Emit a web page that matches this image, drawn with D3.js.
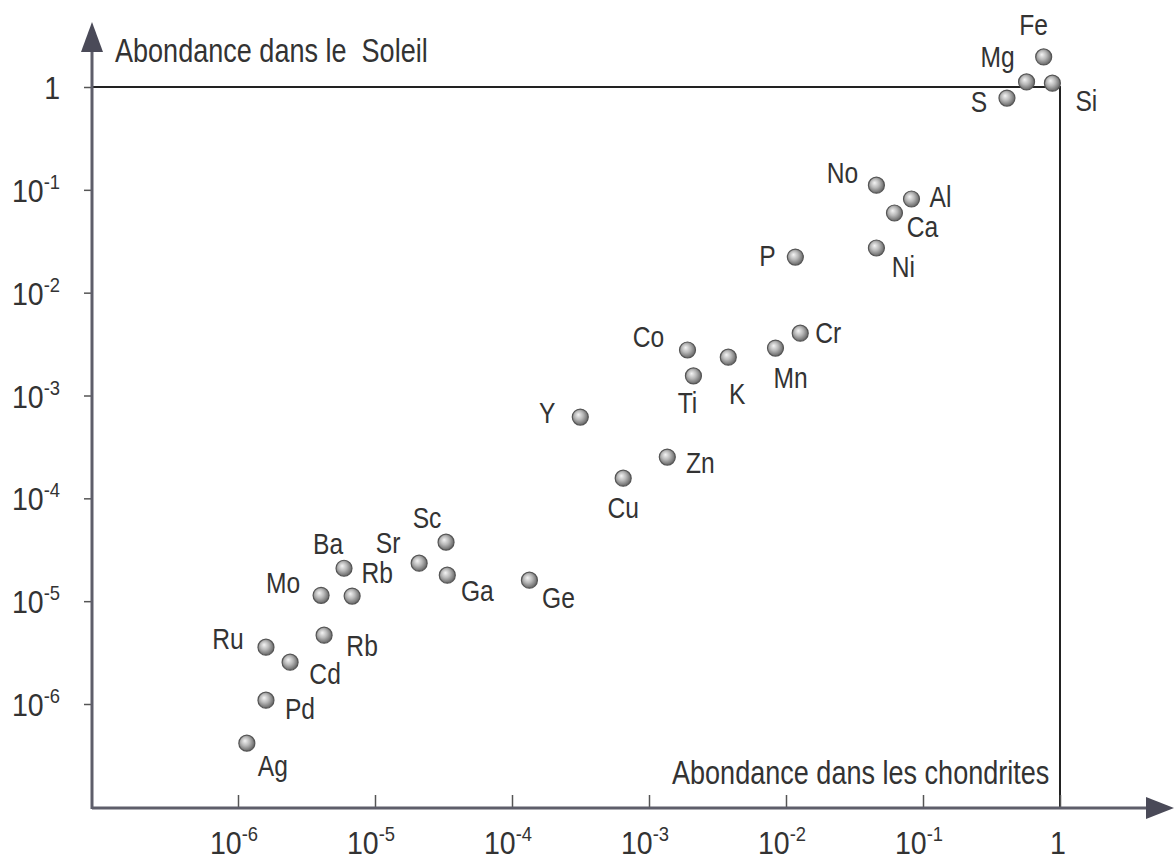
<!DOCTYPE html>
<html>
<head>
<meta charset="utf-8">
<script src="https://cdn.jsdelivr.net/npm/d3@7"></script>
<style>
  body { margin: 0; background: #fff; }
  text { font-family: "Liberation Sans", Arial, sans-serif; fill: #333; }
  .title { font-size: 33px; }
  .elem { font-size: 30px; }
  .tick-label { font-size: 31px; }
  .tick-label .sup { font-size: 20px; }
</style>
</head>
<body>
<div class="chart"></div>
<script>

const width = 1175
const height = 862

// the printed type is a condensed sans, so squeeze labels horizontally
const squeeze = 0.82

// element symbols, abundance in chondrites (x) and in the Sun (y)
const elements = ["Fe","Mg","Si","S","No","Al","Ca","Ni","P","Cr","Mn","K","Co","Ti","Y","Zn","Cu","Sc","Sr","Ga","Ge","Ba","Mo","Rb","Rb","Ru","Cd","Pd","Ag"]
const chondrites = [0.76,0.57,0.88,0.41,0.0457,0.0824,0.0619,0.0457,0.0117,0.0127,0.00838,0.00379,0.00191,0.00211,3.15e-4,1.36e-3,6.48e-4,3.30e-5,2.10e-5,3.37e-5,1.34e-4,5.94e-6,4.04e-6,6.81e-6,4.25e-6,1.60e-6,2.40e-6,1.60e-6,1.16e-6]
const soleil = [1.96,1.12,1.09,0.78,0.111,0.0814,0.0595,0.0272,0.0222,0.00404,0.00289,0.00236,0.00277,0.00155,6.17e-4,2.52e-4,1.57e-4,3.75e-5,2.34e-5,1.79e-5,1.60e-5,2.09e-5,1.14e-5,1.12e-5,4.67e-6,3.57e-6,2.55e-6,1.09e-6,4.16e-7]

// where each symbol sits relative to its dot
const labelOffsets = [[-10,-32],[-29,-25],[34,17],[-28,4],[-34,-13],[29,-2],[28,14],[27,19],[-28,-1],[28,-1],[15,30],[9,36],[-39,-13],[-6,27],[-33,-4],[33,6],[0,29],[-19,-25],[-31,-21],[30,15],[29,17],[-16,-25],[-38,-13],[25,-23],[38,10],[-38,-9],[35,11],[34,8],[26,22]]

const tickExponents = [-6,-5,-4,-3,-2,-1,0]
const tickValues = tickExponents.map(e => Math.pow(10, e))

const origin = {x: 92, y: 808}

const svg = d3.select('.chart')
  .append('svg')
  .attr('width', width)
  .attr('height', height)

const defs = svg.append('defs')
const grad = defs.append('radialGradient')
  .attr('id', 'ball')
  .attr('cx', '45%').attr('cy', '45%').attr('r', '60%')
  .attr('fx', '38%').attr('fy', '35%')
grad.append('stop').attr('offset', '0%').attr('stop-color', '#f4f4f4')
grad.append('stop').attr('offset', '45%').attr('stop-color', '#b8b8b8')
grad.append('stop').attr('offset', '100%').attr('stop-color', '#5a5a5a')

const xScale = d3.scaleLog()
  .domain([1e-6, 1])
  .range([238, 1060])

const yScale = d3.scaleLog()
  .domain([1e-6, 1])
  .range([704, 87])

// frame at the value 1 on both axes
svg.append('path')
  .attr('d', `M${origin.x},${yScale(1)}H${xScale(1)}V${origin.y}`)
  .attr('fill', 'none')
  .attr('stroke', '#222')
  .attr('stroke-width', 2)

// x axis
const xAxis = svg.append('g')
  .attr('transform', `translate(0,${origin.y})`)
  .call(d3.axisBottom(xScale).tickValues(tickValues).tickSize(-13).tickFormat(''))
xAxis.select('.domain').remove()
xAxis.selectAll('.tick line').attr('stroke', '#555').attr('stroke-width', 1.5)

svg.append('line')
  .attr('x1', origin.x).attr('x2', 1150)
  .attr('y1', origin.y).attr('y2', origin.y)
  .attr('stroke', '#5e5e6a').attr('stroke-width', 3)

svg.append('path')
  .attr('d', `M1174,${origin.y}L1146,${origin.y - 11}L1146,${origin.y + 11}Z`)
  .attr('fill', '#4a4a58')

// y axis
const yAxis = svg.append('g')
  .attr('transform', `translate(${origin.x},0)`)
  .call(d3.axisLeft(yScale).tickValues(tickValues).tickSize(8).tickFormat(''))
yAxis.select('.domain').remove()
yAxis.selectAll('.tick line').attr('stroke', '#555').attr('stroke-width', 1.5)

svg.append('line')
  .attr('x1', origin.x).attr('x2', origin.x)
  .attr('y1', origin.y + 1).attr('y2', 46)
  .attr('stroke', '#5e5e6a').attr('stroke-width', 3)

svg.append('path')
  .attr('d', `M${origin.x},22L${origin.x - 11},52L${origin.x + 11},52Z`)
  .attr('fill', '#4a4a58')

function tickText(sel, e) {
  if (e === 0) {
    sel.text('1')
    return
  }
  sel.append('tspan').text('10')
  sel.append('tspan').attr('class', 'sup').attr('dy', -13).text(e)
}

svg.append('g').selectAll('text')
  .data(tickExponents)
  .enter()
  .append('text')
  .attr('class', 'tick-label')
  .attr('text-anchor', 'middle')
  .attr('transform', d => `translate(${xScale(Math.pow(10, d)) - (d === 0 ? 2 : 4)},854) scale(0.92,1)`)
  .each(function(d) { tickText(d3.select(this), d) })

svg.append('g').selectAll('text')
  .data(tickExponents)
  .enter()
  .append('text')
  .attr('class', 'tick-label')
  .attr('text-anchor', 'end')
  .attr('transform', d => `translate(60,${yScale(Math.pow(10, d)) + 12}) scale(0.92,1)`)
  .each(function(d) { tickText(d3.select(this), d) })

// axis titles
svg.append('text')
  .attr('class', 'title')
  .attr('transform', `translate(115,62) scale(${squeeze},1)`)
  .attr('xml:space', 'preserve')
  .text('Abondance dans le  Soleil')

svg.append('text')
  .attr('class', 'title')
  .attr('transform', `translate(672,784) scale(${squeeze},1)`)
  .text('Abondance dans les chondrites')

// points
const points = elements.map((d, i) => ({name: d, x: chondrites[i], y: soleil[i], off: labelOffsets[i]}))

const dots = svg.append('g')
dots.selectAll('circle')
  .data(points)
  .enter()
  .append('circle')
  .attr('cx', d => xScale(d.x))
  .attr('cy', d => yScale(d.y))
  .attr('r', 8)
  .attr('fill', 'url(#ball)')
  .attr('stroke', '#555')
  .attr('stroke-width', 1.2)

svg.append('g').selectAll('text')
  .data(points)
  .enter()
  .append('text')
  .attr('class', 'elem')
  .attr('text-anchor', 'middle')
  .attr('dominant-baseline', 'central')
  .attr('transform', d => `translate(${xScale(d.x) + d.off[0]},${yScale(d.y) + d.off[1]}) scale(${squeeze},1)`)
  .text(d => d.name)

</script>
</body>
</html>
